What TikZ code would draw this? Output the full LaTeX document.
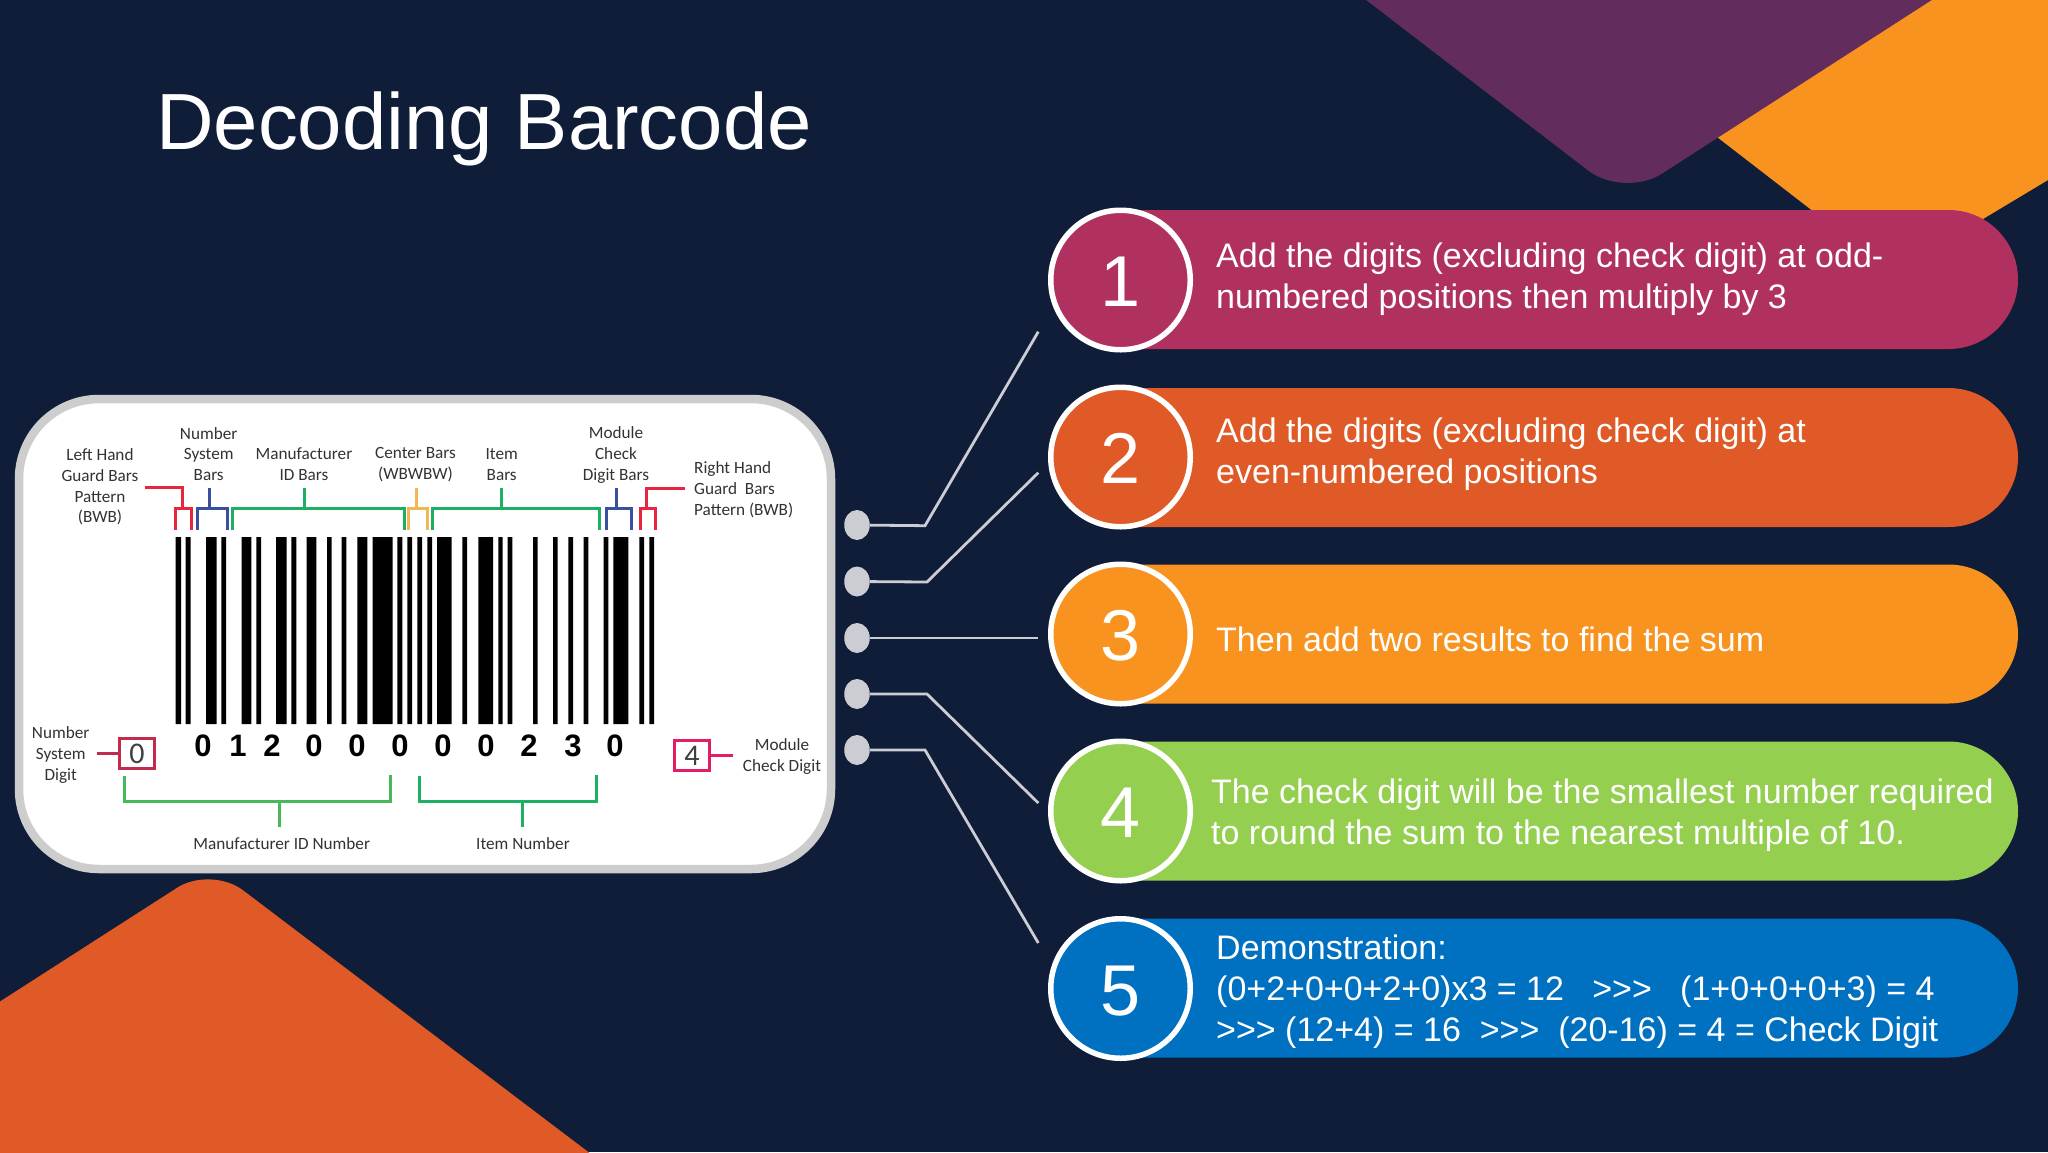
\documentclass[tikz,border=0pt]{standalone}
\usepackage{fontspec}
\setmainfont{Liberation Sans}
\newfontfamily\labelfont{Carlito}
\usetikzlibrary{shapes.geometric,shapes.misc}

\definecolor{bgnavy}{HTML}{0F1D39}
\definecolor{shapeplum}{HTML}{622D5C}
\definecolor{magentapill}{HTML}{B03060}
\definecolor{rustpill}{HTML}{DF5A26}
\definecolor{amberpill}{HTML}{F8931F}
\definecolor{greenpill}{HTML}{94CF4F}
\definecolor{bluepill}{HTML}{0070C0}
\definecolor{dotgrey}{HTML}{CBCDD2}
\definecolor{panelgrey}{HTML}{CDCDCD}
\definecolor{guardred}{HTML}{E8253F}
\definecolor{sysblue}{HTML}{3B4FA0}
\definecolor{idgreen}{HTML}{1DB063}
\definecolor{centeryellow}{HTML}{F4B553}
\definecolor{boxcrimson}{HTML}{C22A4E}
\definecolor{boxpink}{HTML}{E21F66}
\definecolor{lightgreen}{HTML}{49B85A}

\newcommand{\gts}{>\kern0pt>\kern0pt>}

\tikzset{
  pill/.style={rounded rectangle,rounded rectangle west arc=none,minimum width=898pt,minimum height=139pt,inner sep=0pt},
  numcircle/.style={circle,draw=white,line width=5.5pt,minimum size=139.5pt,inner sep=0pt,text=white,text height=53.5pt,text depth=0pt,font=\fontsize{72}{72}\selectfont},
  pilltext/.style={anchor=west,align=left,inner sep=0pt,text=white,font=\fontsize{34}{40.7}\selectfont},
  barlabel/.style={align=center,inner sep=0pt,text=black!80,font=\labelfont\fontsize{17.2}{20.8}\selectfont},
  bardigit/.style={inner sep=0pt,text=black,font=\fontsize{31}{31}\selectfont\bfseries},
  bracket/.style={line width=3pt,line cap=butt,line join=miter},
  holedot/.style={ellipse,fill=dotgrey,minimum width=25.5pt,minimum height=30pt,inner sep=0pt},
  conn/.style={draw=dotgrey,line width=2.8pt}
}

\begin{document}
\begin{tikzpicture}[x=1pt,y=-1pt]
\fill[bgnavy] (0,0) rectangle (2048,1152);
\useasboundingbox (0,0) rectangle (2048,1152);

% corner shapes
\fill[amberpill] (1717,137) -- (1931,0) -- (2048,0) -- (2048,180) -- (1893,273) -- cycle;
\fill[shapeplum,rounded corners=45pt] (1288,-60) -- (1624,198) -- (2025,-60) -- cycle;
\fill[rustpill,rounded corners=40pt] (-60,1040) -- (211,866) -- (620,1176) -- (-60,1176) -- cycle;

\node[anchor=west,inner sep=0pt,text=white,font=\fontsize{79.7}{80}\selectfont] (title) at (156,128.5) {Decoding Barcode};

% barcode panel
\draw[panelgrey,fill=white,line width=8.5pt,rounded corners=80pt] (19,399) rectangle (831,869);

\fill[black] (175.7,537) rectangle (181,724) (185.7,537) rectangle (190.7,724)
  (206,537) rectangle (216.7,724) (221.3,537) rectangle (226,724)
  (241.7,537) rectangle (251.3,724) (256.3,537) rectangle (261,724)
  (276,537) rectangle (286.7,724) (291.3,537) rectangle (296.3,724)
  (306.7,537) rectangle (316.3,724) (327,537) rectangle (331.7,724)
  (341.7,537) rectangle (346.3,724) (357.3,537) rectangle (367.3,724)
  (372.7,537) rectangle (392.7,724) (397.3,537) rectangle (402.3,724)
  (407.3,537) rectangle (412,724) (417.3,537) rectangle (422,724)
  (427.3,537) rectangle (432,724) (437,537) rectangle (451.7,724)
  (462.3,537) rectangle (467,724) (478.3,537) rectangle (493,724)
  (498.3,537) rectangle (502.7,724) (507.7,537) rectangle (512.3,724)
  (533,537) rectangle (537.7,724) (553,537) rectangle (557.7,724)
  (568.3,537) rectangle (573,724) (583.7,537) rectangle (588.3,724)
  (603.7,537) rectangle (608.3,724) (613.3,537) rectangle (628.3,724)
  (639.3,537) rectangle (644,724) (649.3,537) rectangle (654,724);

\node[bardigit] (d1) at (203,746) {0};
\node[bardigit] (d2) at (238,746) {1};
\node[bardigit] (d3) at (272,746) {2};
\node[bardigit] (d4) at (314,746) {0};
\node[bardigit] (d5) at (357,746) {0};
\node[bardigit] (d6) at (400,746) {0};
\node[bardigit] (d7) at (443,746) {0};
\node[bardigit] (d8) at (486,746) {0};
\node[bardigit] (d9) at (529,746) {2};
\node[bardigit] (d10) at (573,746) {3};
\node[bardigit] (d11) at (615,746) {0};

% brackets over the bars
\draw[bracket,guardred] (145,487.7) -- (182.3,487.7) -- (182.3,508.3);
\draw[bracket,guardred] (175.7,530) -- (175.7,508.3) -- (191,508.3) -- (191,530);
\draw[bracket,sysblue] (209.3,487.7) -- (209.3,508.3);
\draw[bracket,sysblue] (197,530) -- (197,508.3) -- (227.3,508.3) -- (227.3,530);
\draw[bracket,idgreen] (304,487.7) -- (304,508.3);
\draw[bracket,idgreen] (232.7,530) -- (232.7,508.3) -- (404,508.3) -- (404,530);
\draw[bracket,centeryellow] (416,487.7) -- (416,508.3);
\draw[bracket,centeryellow] (408.3,530) -- (408.3,508.3) -- (427,508.3) -- (427,530);
\draw[bracket,idgreen] (501.7,487.7) -- (501.7,508.3);
\draw[bracket,idgreen] (432.3,530) -- (432.3,508.3) -- (599.3,508.3) -- (599.3,530);
\draw[bracket,sysblue] (616.7,487.7) -- (616.7,508.3);
\draw[bracket,sysblue] (606,530) -- (606,508.3) -- (631.3,508.3) -- (631.3,530);
\draw[bracket,guardred] (685,488.3) -- (646,488.3) -- (646,508.3);
\draw[bracket,guardred] (640,530) -- (640,508.3) -- (655,508.3) -- (655,530);

% brackets under the digits
\draw[bracket,lightgreen] (124,776) -- (124,801.7) -- (390,801.7) -- (390,775);
\draw[bracket,lightgreen] (279.3,801.7) -- (279.3,826.7);
\draw[bracket,idgreen] (419.3,776) -- (419.3,801.7) -- (596.7,801.7) -- (596.7,775);
\draw[bracket,idgreen] (522.7,801.7) -- (522.7,826.7);

% the two digit boxes
\node[draw=boxcrimson,line width=3pt,minimum width=35pt,minimum height=30pt,inner sep=0pt,text=black!75,font=\labelfont\fontsize{30}{30}\selectfont] (boxzero) at (137,753.5) {0};
\node[draw=boxpink,line width=3pt,minimum width=35pt,minimum height=30pt,inner sep=0pt,text=black!75,font=\labelfont\fontsize{30}{30}\selectfont] (boxfour) at (692,755.5) {4};
\coordinate (stemzero) at (96.7,753.5);
\coordinate (stemfour) at (733,755.5);
\draw[bracket,boxcrimson] (stemzero) -- (boxzero);
\draw[bracket,boxpink] (boxfour) -- (stemfour);

% barcode labels
\node[barlabel] (lefthand) at (100,487) {Left Hand\\Guard Bars\\Pattern\\(BWB)};
\node[barlabel] (numsys) at (208.7,454) {Number\\System\\Bars};
\node[barlabel] (manbars) at (304,464.5) {Manufacturer\\ID Bars};
\node[barlabel] (centerbars) at (415.5,464.5) {Center Bars\\(WBWBW)};
\node[barlabel] (itembars) at (501.7,464.5) {Item\\Bars};
\node[barlabel] (modcheck) at (616,454.7) {Module\\Check\\Digit Bars};
\node[barlabel,anchor=west,align=left] (righthand) at (694,490) {Right Hand\\Guard~ Bars\\Pattern (BWB)};
\node[barlabel] (numdigit) at (60.7,755) {Number\\System\\Digit};
\node[barlabel] (moddigit) at (782,756.5) {Module\\Check Digit};
\node[barlabel] (mannumber) at (281.7,844) {Manufacturer ID Number};
\node[barlabel] (itemnumber) at (523,844) {Item Number};

% pills and numbers
\node[pill,fill=amberpill] (pillthree) at (1569,634) {};
\node[pill,fill=magentapill] (pillone) at (1569,279.5) {};
\node[pill,fill=rustpill] (pilltwo) at (1569,457.5) {};
\node[pill,fill=greenpill] (pillfour) at (1569,811) {};
\node[pill,fill=bluepill] (pillfive) at (1569,988) {};

\node[numcircle,fill=magentapill] (numone) at (1120.5,280) {1};
\node[numcircle,fill=rustpill] (numtwo) at (1120.5,457) {2};
\node[numcircle,fill=amberpill] (numthree) at (1120.5,634) {3};
\node[numcircle,fill=greenpill] (numfour) at (1120.5,811) {4};
\node[numcircle,fill=bluepill] (numfive) at (1120.5,988.5) {5};

\node[pilltext] (textone) at (1216,279.5) {Add the digits (excluding check digit) at odd-\\numbered positions then multiply by 3};
\node[pilltext] (texttwo) at (1216,454) {Add the digits (excluding check digit) at\\even-numbered positions};
\node[pilltext] (textthree) at (1216,639.5) {Then add two results to find the sum};
\node[pilltext] (textfour) at (1211,815) {The check digit will be the smallest number required\\to round the sum to the nearest multiple of 10.};
\node[pilltext] (textfive) at (1216,991.5) {Demonstration:\\(0+2+0+0+2+0)x3 = 12~~~\gts~~~(1+0+0+0+3) = 4\\\gts{} (12+4) = 16~~\gts~~(20-16) = 4 = Check Digit};

% dots and connectors
\node[holedot] (dotone) at (857,525) {};
\node[holedot] (dottwo) at (857,581.5) {};
\node[holedot] (dotthree) at (857,638) {};
\node[holedot] (dotfour) at (857,694) {};
\node[holedot] (dotfive) at (857,750) {};

\coordinate (kneeone) at (925,525.7);
\coordinate (kneetwo) at (927,582);
\coordinate (kneefour) at (927,694);
\coordinate (kneefive) at (925,750);
\coordinate (endone) at (1038.3,331.7);
\coordinate (endtwo) at (1038.3,472.7);
\coordinate (endthree) at (1038.3,638);
\coordinate (endfour) at (1038.3,803);
\coordinate (endfive) at (1038.3,943);

\path[conn] (dotone) -- (kneeone) -- (endone);
\path[conn] (dottwo) -- (kneetwo) -- (endtwo);
\path[conn] (dotthree) -- (endthree);
\path[conn] (dotfour) -- (kneefour) -- (endfour);
\path[conn] (dotfive) -- (kneefive) -- (endfive);
\end{tikzpicture}
\end{document}
